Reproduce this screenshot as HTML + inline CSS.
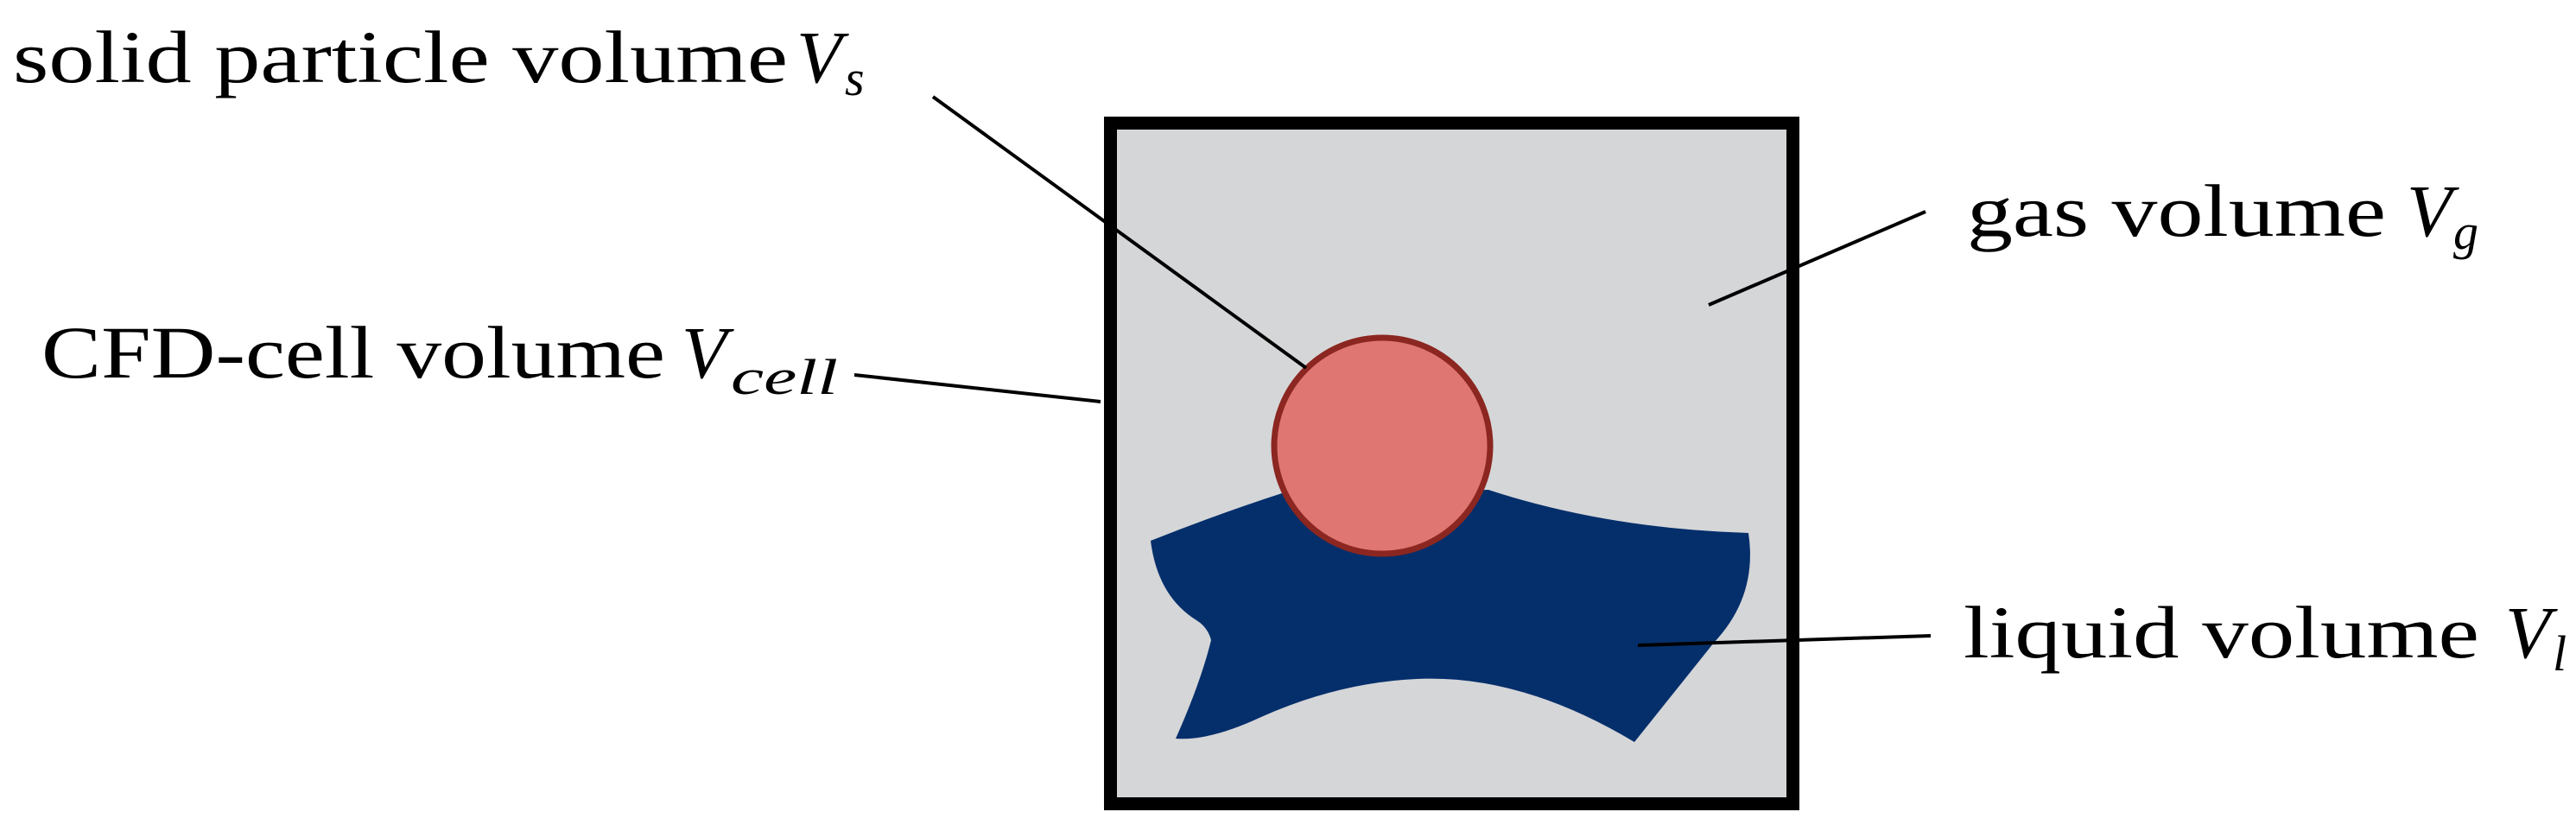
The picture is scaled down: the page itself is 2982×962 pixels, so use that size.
<!DOCTYPE html>
<html><head><meta charset="utf-8"><style>html,body{margin:0;padding:0;background:#fff;}svg{display:block}</style></head>
<body>
<svg width="2982" height="962" viewBox="0 0 2982 962" xmlns="http://www.w3.org/2000/svg" font-family="'Liberation Serif', serif" font-size="86" fill="#000">
<rect x="1285.5" y="142.5" width="790" height="788" fill="#d5d6d8" stroke="#000" stroke-width="15"/>
<path d="M1332,626 Q1410,595 1484,571 L1723,567 Q1860,612 2024,617 Q2035,690 1984,744 L1892,859 Q1760,780 1640,786 Q1550,790 1460,830 Q1400,858 1361,855 Q1390,790 1402,741 Q1398,726 1385,718 Q1340,690 1332,626 Z" fill="#052f6b"/>
<circle cx="1600" cy="516" r="125" fill="#e07672" stroke="#8b2620" stroke-width="7"/>
<g stroke="#000" stroke-width="4">
<line x1="1080" y1="112" x2="1512" y2="426"/>
<line x1="2229" y1="245" x2="1978" y2="353"/>
<line x1="989" y1="434" x2="1274" y2="465"/>
<line x1="2235" y1="736" x2="1896" y2="747"/>
</g>
<text x="15" y="95" textLength="897" lengthAdjust="spacingAndGlyphs">solid particle volume</text>
<text x="922" y="95" font-style="italic">V</text><text x="978" y="110" font-style="italic" font-size="58">s</text>
<text x="2277" y="273" textLength="485" lengthAdjust="spacingAndGlyphs">gas volume</text>
<text x="2786" y="273" font-style="italic">V</text><text x="2840" y="288" font-style="italic" font-size="58">g</text>
<text x="48" y="437" textLength="722" lengthAdjust="spacingAndGlyphs">CFD-cell volume</text>
<text x="789" y="437" font-style="italic">V</text><text x="846" y="456" font-style="italic" font-size="58" textLength="124" lengthAdjust="spacingAndGlyphs">cell</text>
<text x="2273" y="761" textLength="597" lengthAdjust="spacingAndGlyphs">liquid volume</text>
<text x="2900" y="761" font-style="italic">V</text><text x="2955" y="776" font-style="italic" font-size="58">l</text>
</svg>
</body></html>
